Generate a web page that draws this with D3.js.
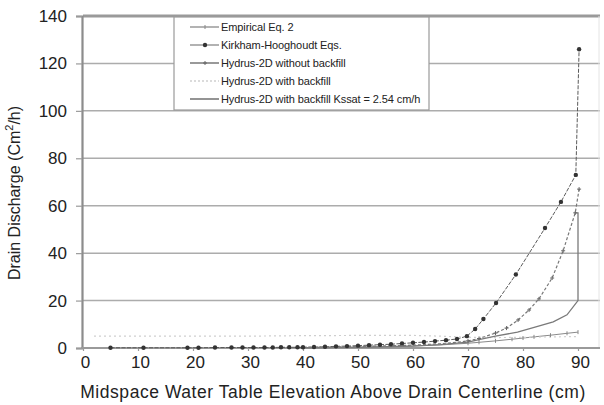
<!DOCTYPE html>
<html>
<head>
<meta charset="utf-8">
<script src="https://cdn.jsdelivr.net/npm/d3@7"></script>
<style>
  html, body { margin: 0; padding: 0; background: #fff; }
  svg { display: block; }
</style>
</head>
<body>
<svg id="chart" width="604" height="405"></svg>
<script>
// ---- data ----
const xTicks = [0, 10, 20, 30, 40, 50, 60, 70, 80, 90];
const yTicks = [0, 20, 40, 60, 80, 100, 120, 140];

const seriesNames = [
  "Empirical Eq. 2",
  "Kirkham-Hooghoudt Eqs.",
  "Hydrus-2D without backfill",
  "Hydrus-2D with backfill",
  "Hydrus-2D with backfill Kssat = 2.54 cm/h"
];

const empiricalX = [40, 45, 50, 55, 60, 65, 70, 72, 75, 78, 80, 82, 85, 88, 90];
const empiricalY = [0.1, 0.2, 0.4, 0.6, 0.9, 1.3, 2.0, 2.4, 3.0, 3.7, 4.2, 4.7, 5.4, 6.2, 6.7];

const kirkhamX = [5, 11, 19, 21, 24, 27, 29, 31, 33, 34.5, 36, 37.5, 39, 40, 42, 44, 46, 48, 50, 52, 54, 56, 58, 60, 62, 64, 66, 68, 69.8, 71.3, 72.8, 75.1, 78.7, 84, 86.9, 89.6, 90.2];
const kirkhamY = [0.1, 0.1, 0.1, 0.1, 0.2, 0.2, 0.2, 0.2, 0.2, 0.2, 0.3, 0.3, 0.3, 0.3, 0.4, 0.5, 0.7, 0.8, 1.0, 1.2, 1.4, 1.6, 1.9, 2.2, 2.5, 2.9, 3.3, 3.8, 5.0, 8.0, 12.2, 19.0, 31.0, 50.6, 61.6, 73.0, 126];

const noBackfillX = [40, 50, 60, 65, 68, 70, 72, 75, 77, 79.1, 81.1, 82.9, 85.3, 87.3, 89.5, 90.2];
const noBackfillY = [0.2, 0.6, 1.2, 1.8, 2.4, 3.0, 4.0, 6.3, 8.4, 11.8, 16.0, 20.7, 29.5, 41.0, 57.0, 67.0];

const backfillX = [2, 10, 20, 30, 40, 50, 60, 65, 70, 75, 80, 85, 90];
const backfillY = [5.0, 5.0, 5.0, 5.0, 5.2, 5.3, 5.3, 5.0, 4.5, 4.4, 4.5, 4.7, 4.8];

const kssatX = [40, 50, 60, 65, 70, 72, 75, 79, 82.5, 85.5, 88, 90, 90, 89.4];
const kssatY = [0.1, 0.3, 0.8, 1.4, 2.5, 3.5, 5.0, 6.7, 9.0, 11.0, 14.0, 20.0, 57.0, 57.0];

// ---- chart ----
const svg = d3.select("#chart");
const x = d3.scaleLinear().domain([0, 94]).range([83, 600]);
const y = d3.scaleLinear().domain([0, 140]).range([348, 16]);

const zip = (xs, ys) => xs.map((v, i) => ({x: v, y: ys[i]}));
const line = d3.line().x(d => x(d.x)).y(d => y(d.y));

// grid lines
svg.append("g").selectAll("line")
  .data(yTicks.filter(t => t > 0))
  .join("line")
  .attr("x1", x(0)).attr("x2", 600)
  .attr("y1", d => y(d)).attr("y2", d => y(d))
  .attr("stroke", d => d === 140 ? "#9a9a9a" : "#acacac")
  .attr("stroke-width", d => d === 140 ? 3 : 1.5);

// right border (faint)
svg.append("line")
  .attr("x1", 599).attr("x2", 599).attr("y1", y(140)).attr("y2", y(0))
  .attr("stroke", "#e4e4e4").attr("stroke-width", 1);

// axes
const fontTick = "'Liberation Sans', Arial, sans-serif";
const yAxis = svg.append("g")
  .attr("transform", `translate(${x(0) - 1},0)`)
  .call(d3.axisLeft(y).tickValues(yTicks).tickSize(6).tickPadding(9).tickFormat(d3.format("d")));
yAxis.select(".domain").attr("stroke", "#8c8c8c").attr("stroke-width", 2.2);
yAxis.selectAll(".tick line").attr("stroke", "#9a9a9a").attr("stroke-width", 1.2);
yAxis.selectAll("text").attr("font-family", fontTick).attr("font-size", 17).attr("fill", "#222");

const xAxis = svg.append("g")
  .attr("transform", `translate(0,${y(0)})`)
  .call(d3.axisBottom(x).tickValues(xTicks).tickSize(3).tickPadding(5).tickFormat(d3.format("d")));
xAxis.select(".domain").attr("stroke", "#9a9a9a").attr("stroke-width", 2).attr("d", `M${x(0) - 2},0H600`);
xAxis.selectAll(".tick line").attr("stroke", "#9a9a9a").attr("stroke-width", 1.2);
xAxis.selectAll("text").attr("font-family", fontTick).attr("font-size", 17).attr("fill", "#222")
  .attr("dx", 2);

// axis titles
svg.append("text")
  .attr("x", 333).attr("y", 398)
  .attr("text-anchor", "middle")
  .attr("font-family", fontTick).attr("font-size", 17.5).attr("letter-spacing", 0.55).attr("fill", "#222")
  .text("Midspace Water Table Elevation Above Drain Centerline (cm)");

const yt = svg.append("text")
  .attr("transform", "translate(20,193) rotate(-90)")
  .attr("text-anchor", "middle")
  .attr("font-family", fontTick).attr("font-size", 16).attr("fill", "#222");
yt.append("tspan").text("Drain Discharge (Cm");
yt.append("tspan").attr("font-size", 11).attr("dy", -7).text("2");
yt.append("tspan").attr("dy", 7).text("/h)");

// series
const styles = [
  {data: zip(empiricalX, empiricalY), stroke: "#8a8a8a", width: 1, dash: null, marker: "tick"},
  {data: zip(kirkhamX, kirkhamY), stroke: "#5a5a5a", width: 1, dash: "4,1.5", marker: "dot"},
  {data: zip(noBackfillX, noBackfillY), stroke: "#777", width: 1.2, dash: "3,2", marker: "plus"},
  {data: zip(backfillX, backfillY), stroke: "#cfcfcf", width: 1.2, dash: "2,3", marker: null},
  {data: zip(kssatX, kssatY), stroke: "#7a7a7a", width: 1.3, dash: null, marker: null}
];

const plot = svg.append("g");
styles.forEach(s => {
  plot.append("path")
    .attr("d", line(s.data))
    .attr("fill", "none")
    .attr("stroke", s.stroke)
    .attr("stroke-width", s.width)
    .attr("stroke-dasharray", s.dash);
});
// markers
styles.forEach(s => {
  if (s.marker === "dot") {
    plot.append("g").selectAll("circle").data(s.data).join("circle")
      .attr("cx", d => x(d.x)).attr("cy", d => y(d.y)).attr("r", 2.2)
      .attr("fill", "#333");
  } else if (s.marker === "plus") {
    plot.append("g").selectAll("path").data(s.data.filter(d => d.x >= 70)).join("path")
      .attr("d", d => `M${x(d.x) - 2},${y(d.y)}h4M${x(d.x)},${y(d.y) - 2}v4`)
      .attr("stroke", "#666").attr("stroke-width", 1);
  } else if (s.marker === "tick") {
    plot.append("g").selectAll("path").data(s.data.filter(d => d.x >= 70)).join("path")
      .attr("d", d => `M${x(d.x)},${y(d.y) - 2}v4`)
      .attr("stroke", "#888").attr("stroke-width", 1);
  }
});

// legend
const lg = svg.append("g");
lg.append("rect")
  .attr("x", 174).attr("y", 17).attr("width", 255).attr("height", 93)
  .attr("fill", "#fff").attr("stroke", "#9a9a9a").attr("stroke-width", 1.2);
const legendFont = "'Liberation Sans', Arial, sans-serif";
seriesNames.forEach((name, i) => {
  const s = styles[i];
  const ly = 27 + i * 18;
  lg.append("line")
    .attr("x1", 190).attr("x2", 219).attr("y1", ly).attr("y2", ly)
    .attr("stroke", i === 1 ? "#888" : s.stroke).attr("stroke-width", s.width + 0.3)
    .attr("stroke-dasharray", i === 3 ? "2,2" : null);
  if (s.marker === "dot") {
    lg.append("circle").attr("cx", 205).attr("cy", ly).attr("r", 2.2).attr("fill", "#333");
  } else if (s.marker === "plus") {
    lg.append("path").attr("d", `M203,${ly}h4M205,${ly - 2}v4`).attr("stroke", "#666");
  } else if (s.marker === "tick") {
    lg.append("path").attr("d", `M205,${ly - 2}v4`).attr("stroke", "#888");
  }
  lg.append("text")
    .attr("x", 221).attr("y", ly + 4)
    .attr("font-family", legendFont).attr("font-size", 11).attr("letter-spacing", -0.1).attr("fill", "#222")
    .text(name);
});
</script>
</body>
</html>
